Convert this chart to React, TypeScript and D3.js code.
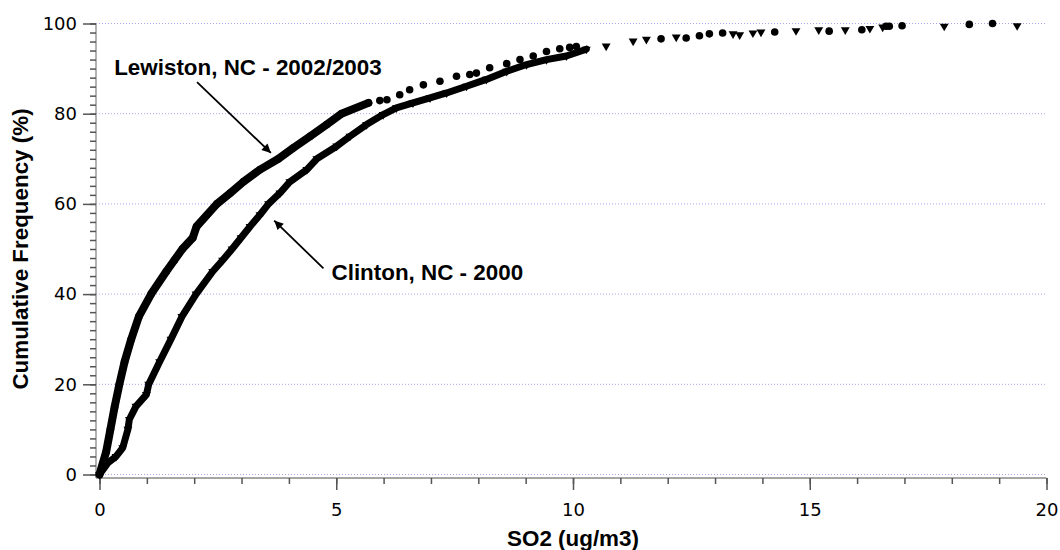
import React, { useEffect, useRef } from "react";
import * as d3 from "d3";

// [SO2 ug/m3, cumulative %]
const lewiston: [number, number][] = [
  [0, 0], [0.14, 5], [0.23, 10], [0.32, 15], [0.42, 20], [0.53, 25], [0.67, 30],
  [0.83, 35], [1.09, 40], [1.41, 45], [1.58, 47.5], [1.75, 50], [1.97, 52.5],
  [2.05, 55], [2.48, 60], [2.76, 62.4], [3.04, 64.9], [3.39, 67.6], [3.78, 70],
  [4.09, 72.4], [4.45, 75], [4.8, 77.6], [5.11, 80], [5.68, 82.4], [5.92, 82.9],
  [6.07, 83.1], [6.34, 84.2], [6.55, 85.3], [6.84, 86.4], [7.19, 87.2], [7.54, 88.3],
  [7.82, 88.7], [7.96, 89.0], [8.24, 90.2], [8.6, 91.1], [8.88, 92.0], [9.16, 92.8],
  [9.44, 93.8], [9.72, 94.4], [9.93, 94.7], [10.07, 94.9], [11.86, 96.6],
  [12.39, 96.8], [12.67, 97.3], [12.88, 97.7], [13.16, 97.9], [14.26, 98.1],
  [15.41, 98.3], [16.1, 98.6], [16.61, 99.4], [16.68, 99.4], [16.95, 99.5],
  [18.37, 99.8], [18.86, 100],
];

const clinton: [number, number][] = [
  [0, 0], [0.18, 2.6], [0.35, 4.0], [0.49, 5.9], [0.6, 10], [0.63, 12.2],
  [0.77, 15.1], [0.99, 17.7], [1.04, 20], [1.27, 25], [1.51, 30], [1.74, 35],
  [2.04, 40], [2.39, 45], [2.6, 47.5], [2.8, 50], [2.99, 52.5], [3.18, 55],
  [3.39, 57.6], [3.57, 60], [3.81, 62.4], [4.02, 64.9], [4.38, 67.6], [4.59, 70],
  [5.01, 72.8], [5.29, 75], [5.64, 77.6], [5.99, 79.8], [6.27, 81.3], [6.62, 82.4],
  [6.98, 83.5], [7.33, 84.6], [7.75, 86.1], [8.17, 87.6], [8.6, 89.4], [9.02, 90.9],
  [9.44, 92.0], [9.86, 92.8], [10.28, 94.3], [10.7, 95.0], [11.27, 96.1],
  [11.55, 96.5], [12.18, 97.0], [13.38, 97.7], [13.52, 97.5], [13.8, 97.9],
  [13.97, 98.1], [14.71, 98.4], [15.19, 98.6], [15.75, 98.6], [16.27, 98.9],
  [16.54, 99.2], [17.84, 99.4], [19.38, 99.5],
];

const yMajorTicks = [0, 20, 40, 60, 80, 100];
const xMajorTicks = [0, 5, 10, 15, 20];

// where the markers overlap into a solid band
const lewistonBandEnd = 5.7;
const clintonBandEnd = 10.3;

const W = 1060;
const H = 550;
const axisX = 96;
const axisY = 478;

const x = d3.scaleLinear().domain([0, 20]).range([99.5, 1046.5]);
const y = d3.scaleLinear().domain([0, 100]).range([474.5, 23.5]);

const line = d3
  .line<[number, number]>()
  .x((d) => x(d[0]))
  .y((d) => y(d[1]));

const triangle = d3.symbol().type(d3.symbolTriangle).size(34)() as string;

const boldFont = "'Liberation Sans', Arial, sans-serif";
const tickFont = "'DejaVu Sans', Verdana, sans-serif";

export default function App() {
  const xAxisRef = useRef<SVGGElement>(null);
  const yAxisRef = useRef<SVGGElement>(null);

  useEffect(() => {
    const gx = d3.select(xAxisRef.current);
    gx.selectAll("*").remove();
    gx.append("g").call(
      d3.axisBottom(x).tickValues(d3.range(0, 21, 1)).tickSize(6).tickFormat(() => "")
    );
    gx.append("g").call(
      d3.axisBottom(x).tickValues(xMajorTicks).tickSize(12).tickPadding(13).tickFormat(d3.format("d"))
    );
    gx.selectAll(".domain").remove();
    gx.selectAll("line").attr("stroke", "#555").attr("stroke-width", 1.5);
    gx.selectAll("text")
      .attr("font-family", tickFont)
      .attr("font-size", 18)
      .attr("fill", "#000");

    const gy = d3.select(yAxisRef.current);
    gy.selectAll("*").remove();
    gy.append("g").call(
      d3.axisLeft(y).tickValues(d3.range(0, 101, 2)).tickSize(6).tickFormat(() => "")
    );
    gy.append("g").call(
      d3.axisLeft(y).tickValues(yMajorTicks).tickSize(13).tickPadding(6).tickFormat(d3.format("d"))
    );
    gy.selectAll(".domain").remove();
    gy.selectAll("line").attr("stroke", "#555").attr("stroke-width", 1.5);
    gy.selectAll("text")
      .attr("font-family", tickFont)
      .attr("font-size", 18)
      .attr("fill", "#000");
  }, []);

  const lewBand = lewiston.filter((d) => d[0] <= lewistonBandEnd);
  const cliBand = clinton.filter((d) => d[0] <= clintonBandEnd);

  return (
    <svg
      width={W}
      height={H}
      style={{ position: "absolute", left: 0, top: 0, background: "#fff" }}
    >
      <defs>
        <marker
          id="arrowhead"
          viewBox="0 0 10 10"
          refX="10"
          refY="5"
          markerWidth="12"
          markerHeight="9"
          markerUnits="userSpaceOnUse"
          orient="auto"
        >
          <path d="M0,0 L10,5 L0,10 z" fill="#000" />
        </marker>
      </defs>

      {/* grid */}
      {yMajorTicks.map((t) => (
        <line
          key={t}
          x1={axisX}
          x2={x(20)}
          y1={y(t)}
          y2={y(t)}
          stroke="#a4a4f0"
          strokeWidth={1}
          strokeDasharray="1 2"
        />
      ))}

      {/* axes */}
      <line x1={axisX} x2={axisX} y1={y(100)} y2={axisY} stroke="#999" strokeWidth={1.5} />
      <line x1={axisX} x2={x(20)} y1={axisY} y2={axisY} stroke="#888" strokeWidth={1.5} />
      <g ref={xAxisRef} transform={`translate(0,${axisY})`} />
      <g ref={yAxisRef} transform={`translate(${axisX},0)`} />

      {/* dense bands */}
      <path
        d={line(lewBand) ?? ""}
        fill="none"
        stroke="#000"
        strokeWidth={8}
        strokeLinejoin="round"
        strokeLinecap="round"
      />
      <path
        d={line(cliBand) ?? ""}
        fill="none"
        stroke="#000"
        strokeWidth={7}
        strokeLinejoin="round"
        strokeLinecap="round"
      />

      {/* markers */}
      {lewiston.map((d, i) => (
        <circle key={`l${i}`} cx={x(d[0])} cy={y(d[1])} r={3.8} fill="#000" />
      ))}
      {clinton.map((d, i) => (
        <path
          key={`c${i}`}
          d={triangle}
          transform={`translate(${x(d[0])},${y(d[1])}) rotate(180)`}
          fill="#000"
        />
      ))}

      {/* annotations */}
      <text x={x(0.31)} y={y(88.6)} fontFamily={boldFont} fontWeight="bold" fontSize={22.4}>
        Lewiston, NC - 2002/2003
      </text>
      <line
        x1={x(2.06)}
        y1={y(87.0)}
        x2={x(3.62)}
        y2={y(71.3)}
        stroke="#000"
        strokeWidth={1.8}
        markerEnd="url(#arrowhead)"
      />
      <text x={x(4.9)} y={y(43.1)} fontFamily={boldFont} fontWeight="bold" fontSize={22.4}>
        Clinton, NC - 2000
      </text>
      <line
        x1={x(4.73)}
        y1={y(45.7)}
        x2={x(3.69)}
        y2={y(56.3)}
        stroke="#000"
        strokeWidth={1.8}
        markerEnd="url(#arrowhead)"
      />

      {/* axis titles */}
      <text
        x={x(10)}
        y={546}
        textAnchor="middle"
        fontFamily={boldFont}
        fontWeight="bold"
        fontSize={22.4}
      >
        SO2 (ug/m3)
      </text>
      <text
        transform={`translate(28,${(y(0) + y(100)) / 2}) rotate(-90)`}
        textAnchor="middle"
        fontFamily={boldFont}
        fontWeight="bold"
        fontSize={22.4}
      >
        Cumulative Frequency (%)
      </text>
    </svg>
  );
}
